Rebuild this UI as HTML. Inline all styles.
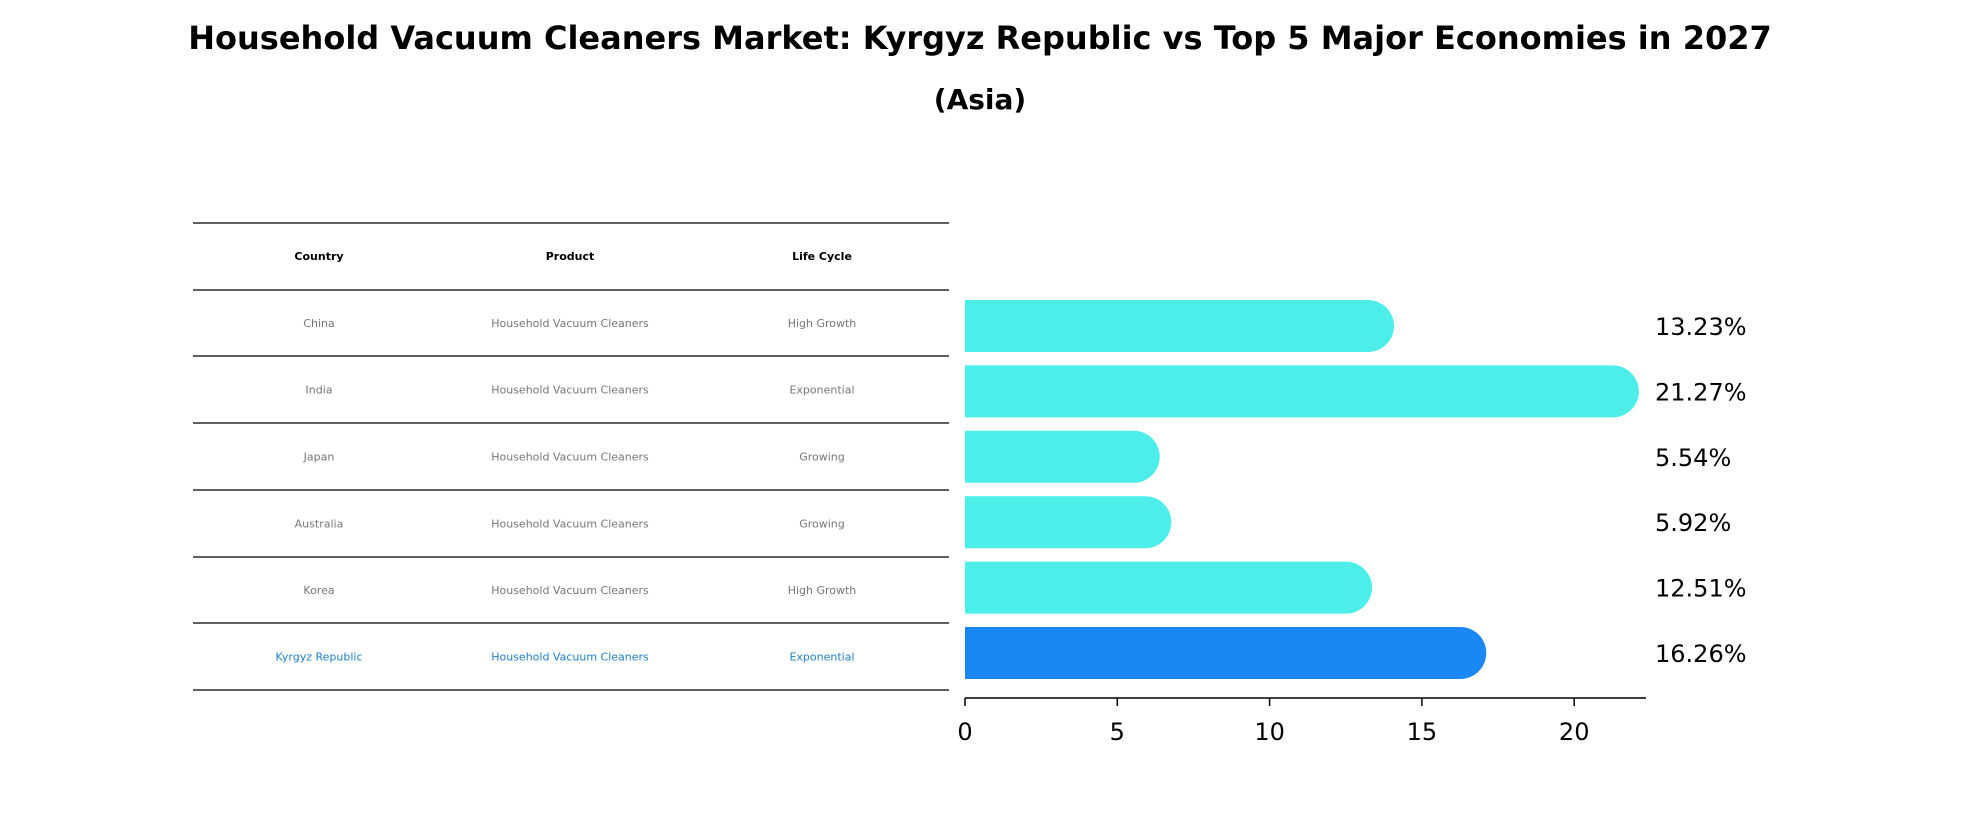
<!DOCTYPE html>
<html><head><meta charset="utf-8"><style>
body{margin:0;background:#fff;font-family:"DejaVu Sans","Liberation Sans",sans-serif;}
svg text{font-family:"DejaVu Sans","Liberation Sans",sans-serif;}
</style></head><body>
<svg id="c" width="1961" height="823" viewBox="0 0 1961 823" xmlns="http://www.w3.org/2000/svg">
<text x="980" y="49" text-anchor="middle" font-size="32" font-weight="bold">Household Vacuum Cleaners Market: Kyrgyz Republic vs Top 5 Major Economies in 2027</text>
<text x="980" y="109" text-anchor="middle" font-size="28" font-weight="bold">(Asia)</text>
<g id="table"></g>
<g id="bars"></g>
</svg>
<script>
const countries=["China","India","Japan","Australia","Korea","Kyrgyz Republic"];
const products=["Household Vacuum Cleaners","Household Vacuum Cleaners","Household Vacuum Cleaners","Household Vacuum Cleaners","Household Vacuum Cleaners","Household Vacuum Cleaners"];
const lifeCycles=["High Growth","Exponential","Growing","Growing","High Growth","Exponential"];
const values=[13.23,21.27,5.54,5.92,12.51,16.26];
const ticks=[0,5,10,15,20];
const NS="http://www.w3.org/2000/svg";
function mk(t,a,p){const e=document.createElementNS(NS,t);for(const k in a)e.setAttribute(k,a[k]);p.appendChild(e);return e;}
const tb=document.getElementById('table'),bg=document.getElementById('bars');
// table
const lineYs=[223,290,356,423,490,557,623,690];
const colX=[319,570,822];
lineYs.forEach((y,i)=>{const l=mk('line',{x1:193,x2:949,y1:y,y2:y,stroke:'#000','stroke-width':1.3},tb);

});
["Country","Product","Life Cycle"].forEach((h,j)=>{const t=mk('text',{x:colX[j],y:260,'text-anchor':'middle','font-size':11,'font-weight':'bold'},tb);t.textContent=h;

});
countries.forEach((c,i)=>{const y=(lineYs[i+1]+lineYs[i+2])/2+4;const col=i===5?'#1f7fc4':'#777';
[c,products[i],lifeCycles[i]].forEach((v,j)=>{const t=mk('text',{x:colX[j],y:y,'text-anchor':'middle','font-size':11,fill:col},tb);t.textContent=v;

});});
// bars
const x0=965,pxPer=30.46,top0=300,pitch=65.4,bh=52;
const X=v=>x0+v*pxPer;
values.forEach((v,i)=>{const y=top0+i*pitch,r=bh/2,xe=X(v);
const p=mk('path',{d:`M${x0},${y}H${xe}A${r},${r} 0 0 1 ${xe},${y+bh}H${x0}Z`,fill:i===5?'#1a87f5':'#4deeea'},bg);


const t=mk('text',{x:1655,y:y+bh/2+9,'font-size':24},bg);t.textContent=v.toFixed(2)+'%';

});
const ax=mk('line',{x1:x0,x2:1646,y1:698,y2:698,stroke:'#000','stroke-width':1.5},bg);


ticks.forEach(tv=>{const tk=mk('line',{x1:X(tv),x2:X(tv),y1:698,y2:706,stroke:'#000','stroke-width':1.5},bg);


const t=mk('text',{x:X(tv),y:740,'text-anchor':'middle','font-size':24},bg);t.textContent=tv;

});
</script>
</body></html>
